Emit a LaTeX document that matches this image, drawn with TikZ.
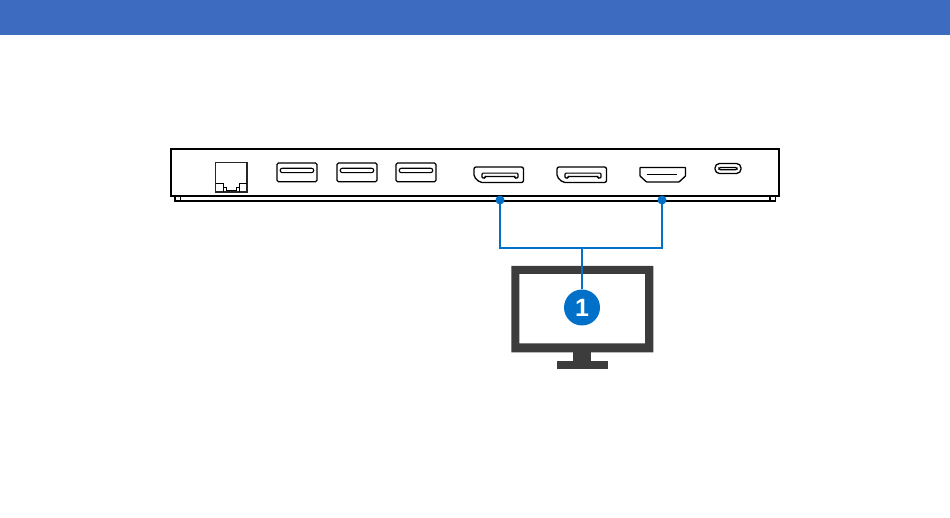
\documentclass[tikz,border=0pt]{standalone}
\usepackage{fontspec}
\setmainfont{Liberation Sans}
\definecolor{headblue}{HTML}{3D6BBF}
\definecolor{linkblue}{HTML}{0070C9}
\definecolor{screengray}{HTML}{3C3C3C}
\tikzset{
  port/.style={draw=black,line width=1.2pt,rounded corners=1.5pt},
  slot/.style={draw=black,line width=1.1pt,rounded corners=1pt},
  link/.style={draw=linkblue,line width=2.2pt},
  linkdot/.style={circle,fill=linkblue,inner sep=0pt,minimum size=9pt,outer sep=0pt},
  badge/.style={circle,fill=linkblue,text=white,inner sep=0pt,minimum size=36pt,outer sep=0pt,font=\bfseries\fontsize{25}{25}\selectfont},
  dpport/.pic={
    \draw[port,line width=1.3pt,rounded corners=2pt] (0,0) -- (49.5,0) -- (49.5,15.5) -- (6,15.5) -- (0,10) -- cycle;
    \draw[slot] (8,11) -- (8,6.2) -- (44,6.2) -- (44,11) -- (41,11) -- (41,9.5) -- (11,9.5) -- (11,11) -- cycle;
  },
}
\begin{document}
\begin{tikzpicture}[x=1pt,y=-1pt]
  \useasboundingbox (0,0) rectangle (950,518);
  \fill[headblue] (0,0) rectangle (950,35);
  % dock
  \draw[line width=1.6pt] (175,196) rectangle (180.5,201);
  \draw[line width=1.6pt] (770,196) rectangle (775.5,201);
  \draw[line width=1.6pt] (175,201) -- (775,201);
  \draw[line width=2pt,fill=white] (171,149) rectangle (779,196);
  % lan
  \draw[line width=1.6pt,draw=black!85] (215.5,162.5) rectangle (247,192);
  \draw[line width=.9pt] (215.5,183) -- (223,183) -- (223,187) -- (226,187) -- (226,190.5) -- (236,190.5) -- (236,187) -- (239.5,187) -- (239.5,183) -- (247,183);
  \draw[line width=.9pt] (223,187) -- (223,192) (239.5,187) -- (239.5,192);
  % usb
  \foreach \x in {277,337,396} {
    \draw[port] (\x,163) rectangle ++(40,18.7);
    \draw[slot,rounded corners=2pt] (\x+3.2,168.3) rectangle ++(33.5,4.3);
  }
  % displayport
  \pic at (474,167) {dpport};
  \pic at (557,167) {dpport};
  % hdmi
  \draw[port,line width=1.3pt,rounded corners=.5pt] (640,167.5) -- (685.5,167.5) -- (685.5,176) -- (679,182) -- (646.5,182) -- (640,176) -- cycle;
  \draw[line width=.9pt] (647,174.8) -- (677,174.8);
  % usb c
  \draw[line width=1.3pt,rounded corners=4.5pt] (715,163.5) rectangle (741,173.5);
  \draw[line width=1.2pt,rounded corners=1.2pt] (719,167.5) rectangle (737,169.8);
  % monitor
  \fill[screengray,even odd rule] (511.3,266) rectangle (653.3,352.3) (519.3,274) rectangle (645,343.5);
  \fill[screengray] (573.3,352) rectangle (591,362);
  \fill[screengray] (556.7,361) rectangle (608,369.3);
  % links
  \node[linkdot] (dpdot) at (500,200) {};
  \node[linkdot] (hdmidot) at (662,200) {};
  \node[badge] (one) at (582,307.5) {1};
  \coordinate (split) at (582,248);
  \draw[link] (dpdot) |- (split) (hdmidot) |- (split) (split) -- (one);
\end{tikzpicture}
\end{document}
